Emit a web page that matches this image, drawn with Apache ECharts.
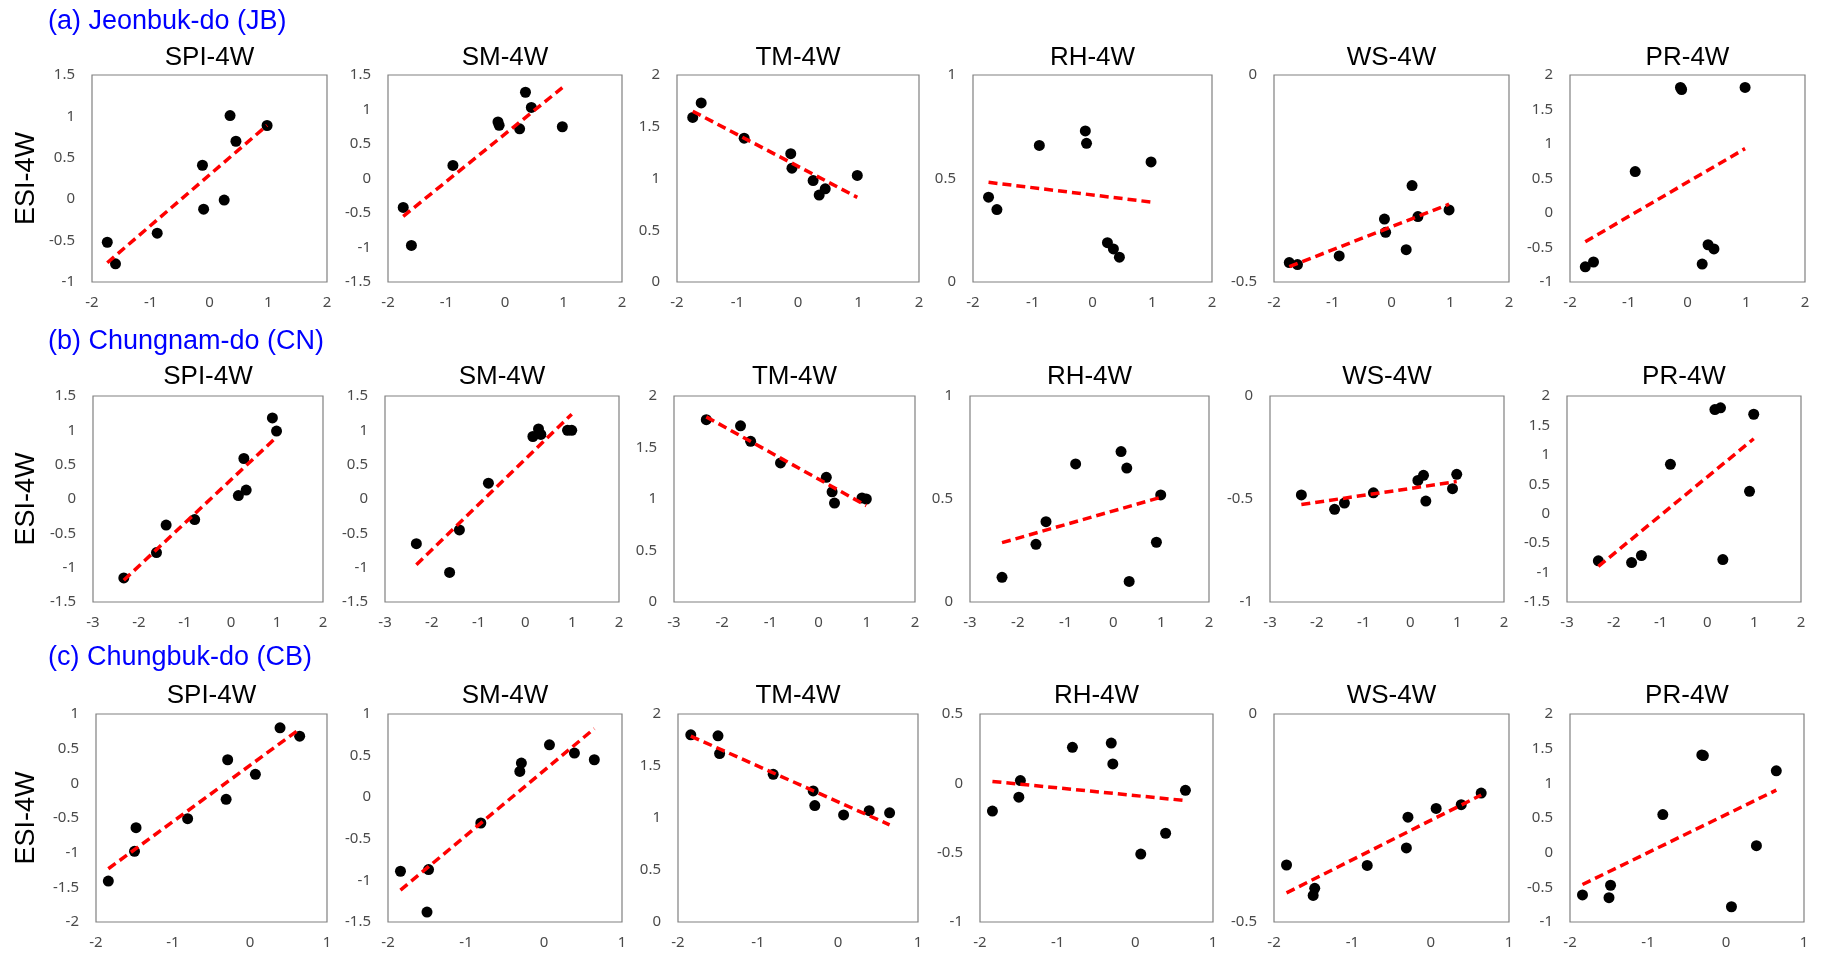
<!DOCTYPE html>
<html>
<head>
<meta charset="utf-8">
<script src="https://cdn.jsdelivr.net/npm/echarts@6/dist/echarts.min.js"></script>
<style>
  html, body { margin:0; padding:0; background:#fff; }
  #chart { width:1821px; height:963px; }
</style>
</head>
<body>
<div id="chart"></div>
<script>
// ---------- labels ----------
const panelNames = ['SPI-4W', 'SM-4W', 'TM-4W', 'RH-4W', 'WS-4W', 'PR-4W'];
const regionTitles = ['(a) Jeonbuk-do (JB)', '(b) Chungnam-do (CN)', '(c) Chungbuk-do (CB)'];
const yAxisTitle = 'ESI-4W';

// ---------- (a) Jeonbuk-do ----------
const xJB  = [-1.74, -1.60, -0.89, -0.12, -0.10, 0.25, 0.35, 0.45, 0.98];
const jbSPI = [-0.52, -0.78, -0.41, 0.41, -0.12, -0.01, 1.01, 0.70, 0.89];
const jbSM  = [-0.42, -0.97, 0.19, 0.82, 0.77, 0.72, 1.25, 1.03, 0.75];
const jbTM  = [1.59, 1.73, 1.39, 1.24, 1.10, 0.98, 0.84, 0.90, 1.03];
const jbRH  = [0.41, 0.35, 0.66, 0.73, 0.67, 0.19, 0.16, 0.12, 0.58];
const jbWS  = [-0.453, -0.458, -0.437, -0.348, -0.380, -0.422, -0.267, -0.342, -0.326];
const jbPR  = [-0.78, -0.71, 0.60, 1.82, 1.79, -0.74, -0.46, -0.52, 1.82];

// ---------- (b) Chungnam-do ----------
const xCN  = [-2.33, -1.62, -1.41, -0.79, 0.16, 0.28, 0.33, 0.90, 0.99];
const cnSPI = [-1.15, -0.78, -0.38, -0.30, 0.05, 0.59, 0.13, 1.18, 0.99];
const cnSM  = [-0.65, -1.07, -0.45, 0.23, 0.91, 1.02, 0.94, 1.00, 1.00];
const cnTM  = [1.77, 1.71, 1.56, 1.35, 1.21, 1.07, 0.96, 1.01, 1.00];
const cnRH  = [0.12, 0.28, 0.39, 0.67, 0.73, 0.65, 0.10, 0.29, 0.52];
const cnWS  = [-0.48, -0.55, -0.52, -0.47, -0.41, -0.385, -0.51, -0.45, -0.38];
const cnPR  = [-0.80, -0.83, -0.71, 0.84, 1.77, 1.80, -0.78, 0.38, 1.69];

// ---------- (c) Chungbuk-do ----------
const xCB  = [-1.84, -1.50, -1.48, -0.81, -0.31, -0.29, 0.07, 0.39, 0.645];
const cbSPI = [-1.41, -0.98, -0.64, -0.51, -0.23, 0.34, 0.13, 0.80, 0.68];
const cbSM  = [-0.89, -1.38, -0.87, -0.31, 0.31, 0.41, 0.63, 0.53, 0.45];
const cbTM  = [1.80, 1.79, 1.62, 1.42, 1.26, 1.12, 1.03, 1.07, 1.05];
const cbRH  = [-0.20, -0.10, 0.02, 0.26, 0.29, 0.14, -0.51, -0.36, -0.05];
const cbWS  = [-0.363, -0.436, -0.419, -0.364, -0.322, -0.248, -0.227, -0.218, -0.190];
const cbPR  = [-0.61, -0.65, -0.47, 0.55, 1.41, 1.40, -0.78, 0.10, 1.18];

// ---------- axis ranges (tick labels) ----------
const xRangeRows = [[-2, 2], [-3, 2], [-2, 1]];
const yRangesJB = [[-1, 1.5], [-1.5, 1.5], [0, 2], [0, 1], [-0.5, 0], [-1, 2]];
const yRangesCN = [[-1.5, 1.5], [-1.5, 1.5], [0, 2], [0, 1], [-1, 0], [-1.5, 2]];
const yRangesCB = [[-2, 1], [-1.5, 1], [0, 2], [-1, 0.5], [-0.5, 0], [-1, 2]];

const rowX = [xJB, xCN, xCB];
const rowY = [
  [jbSPI, jbSM, jbTM, jbRH, jbWS, jbPR],
  [cnSPI, cnSM, cnTM, cnRH, cnWS, cnPR],
  [cbSPI, cbSM, cbTM, cbRH, cbWS, cbPR]
];
const rowYRanges = [yRangesJB, yRangesCN, yRangesCB];

// ---------- layout ----------
const rowTop = [75, 396, 714];
const rowHeight = [207, 206, 208];
const rowLefts = [
  [92, 388, 677, 973, 1274, 1570],
  [93, 385, 674, 970, 1270, 1567],
  [96, 388, 678, 980, 1274, 1570]
];
const rowWidths = [
  [235, 234, 242, 239, 235, 235],
  [230, 234, 241, 239, 234, 234],
  [231, 234, 240, 233, 235, 234]
];
const regionTitleY = [22, 342, 658];
const panelTitleY = [58, 377, 696];

// least-squares trendline (as Excel's linear trendline)
function trend(xs, ys) {
  const n = xs.length;
  let mx = 0, my = 0;
  for (let i = 0; i < n; i++) { mx += xs[i]; my += ys[i]; }
  mx /= n; my /= n;
  let sxy = 0, sxx = 0;
  for (let i = 0; i < n; i++) { sxy += (xs[i] - mx) * (ys[i] - my); sxx += (xs[i] - mx) * (xs[i] - mx); }
  const b = sxy / sxx, a = my - b * mx;
  const x0 = Math.min.apply(null, xs), x1 = Math.max.apply(null, xs);
  return [[x0, a + b * x0], [x1, a + b * x1]];
}

const option = {
  animation: false,
  backgroundColor: '#ffffff',
  grid: [], xAxis: [], yAxis: [], series: [], graphic: []
};

const tickLabel = { color: '#4a4a4a', fontSize: 15, fontFamily: 'Noto Sans' };

for (let r = 0; r < 3; r++) {
  option.graphic.push({
    type: 'text', x: 48, y: regionTitleY[r],
    style: { text: regionTitles[r], fill: '#0000ff', font: '27px "Liberation Sans", Arial, sans-serif',
             textAlign: 'left', textVerticalAlign: 'middle' }
  });
  for (let c = 0; c < 6; c++) {
    const idx = r * 6 + c;
    const left = rowLefts[r][c], width = rowWidths[r][c];
    option.grid.push({
      left: left, top: rowTop[r], width: width, height: rowHeight[r],
      show: true, borderColor: '#808080', borderWidth: 1.2, containLabel: false
    });
    option.xAxis.push({
      type: 'value', gridIndex: idx,
      min: xRangeRows[r][0], max: xRangeRows[r][1], interval: 1,
      axisLine: { show: false }, axisTick: { show: false }, splitLine: { show: false },
      axisLabel: Object.assign({ margin: 13 }, tickLabel)
    });
    const yAx = {
      type: 'value', gridIndex: idx,
      min: rowYRanges[r][c][0], max: rowYRanges[r][c][1], interval: 0.5,
      axisLine: { show: false }, axisTick: { show: false }, splitLine: { show: false },
      axisLabel: Object.assign({ margin: 17 }, tickLabel)
    };
    if (c === 0) {
      yAx.name = yAxisTitle;
      yAx.nameLocation = 'middle';
      yAx.nameGap = left - 40;
      yAx.nameTextStyle = { fontSize: 27, color: '#000', fontFamily: 'Liberation Sans' };
    }
    option.yAxis.push(yAx);

    option.graphic.push({
      type: 'text', x: left + width / 2, y: panelTitleY[r],
      style: { text: panelNames[c], fill: '#000', font: '26px "Liberation Sans", Arial, sans-serif',
               textAlign: 'center', textVerticalAlign: 'middle' }
    });

    const xs = rowX[r], ys = rowY[r][c];
    option.series.push({
      type: 'scatter', xAxisIndex: idx, yAxisIndex: idx,
      data: xs.map((x, i) => [x, ys[i]]),
      symbol: 'circle', symbolSize: 11,
      itemStyle: { color: '#000000', opacity: 1 }, z: 2
    });
    option.series.push({
      type: 'line', xAxisIndex: idx, yAxisIndex: idx,
      data: trend(xs, ys), showSymbol: false, symbol: 'none',
      lineStyle: { color: '#ff0000', width: 3.5, type: [9, 5] }, z: 3
    });
  }
}

const chart = echarts.init(document.getElementById('chart'), null, { renderer: 'canvas' });
chart.setOption(option);
</script>
</body>
</html>
